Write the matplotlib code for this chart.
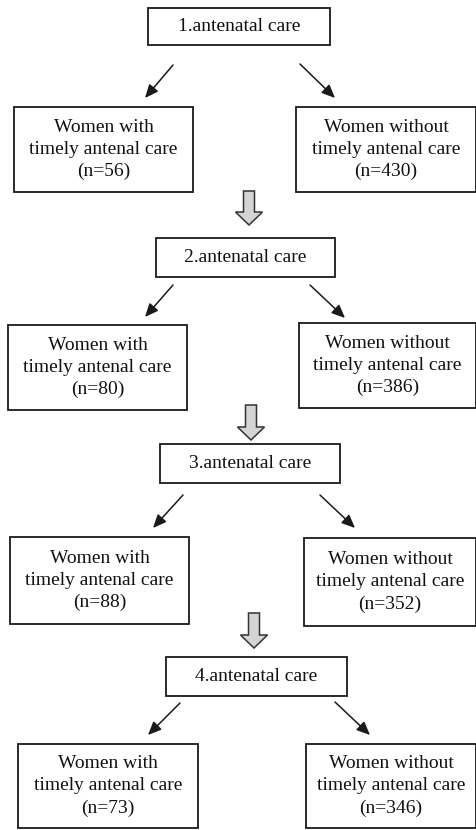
import matplotlib
matplotlib.use("Agg")
import matplotlib.pyplot as plt
from matplotlib.patches import Rectangle, FancyArrow

# data
stages = ["1.antenatal care", "2.antenatal care", "3.antenatal care", "4.antenatal care"]
with_label = "Women with\ntimely antenal care"
without_label = "Women without\ntimely antenal care"
n_with = [56, 80, 88, 73]
n_without = [430, 386, 352, 346]

# layout in pixel coords (x0, x1, y0, y1)
top_boxes = [(148, 330, 8, 45), (156, 335, 238, 277), (160, 340, 444, 483), (166, 347, 657, 696)]
left_boxes = [(14, 193, 107, 192), (8, 187, 325, 410), (10, 189, 537, 624), (18, 198, 744, 828)]
right_boxes = [(296, 476, 107, 192), (299, 476, 323, 408), (304, 476, 538, 626), (306, 476, 744, 828)]
arrows_left = [((173, 65), (145, 98)), ((173, 285), (145, 317)), ((183, 495), (153, 528)), ((180, 703), (148, 735))]
arrows_right = [((300, 64), (335, 98)), ((310, 285), (345, 318)), ((320, 495), (355, 528)), ((335, 702), (370, 735))]
block_arrows = [(249, 191, 225), (251, 405, 440), (254, 613, 648)]

plt.rcParams["font.family"] = ["Liberation Serif", "DejaVu Serif"]
FS = 14
EDGE = "#1a1a1a"

fig = plt.figure(figsize=(4.77, 8.30), dpi=100)
ax = fig.add_axes([0, 0, 1, 1])
ax.set_xlim(0, 477)
ax.set_ylim(830, 0)
ax.axis("off")


def box(b, text):
    x0, x1, y0, y1 = b
    ax.add_patch(Rectangle((x0, y0), x1 - x0, y1 - y0, fill=False,
                           edgecolor=EDGE, linewidth=1.3))
    ax.text((x0 + x1) / 2, (y0 + y1) / 2, text, ha="center", va="center",
            fontsize=FS, linespacing=1.4, color="#111111")


for i, st in enumerate(stages):
    box(top_boxes[i], st)
    box(left_boxes[i], f"{with_label}\n(n={n_with[i]})")
    box(right_boxes[i], f"{without_label}\n(n={n_without[i]})")
    for (s, e) in (arrows_left[i], arrows_right[i]):
        ax.annotate("", xy=e, xytext=s,
                    arrowprops=dict(arrowstyle="-|>,head_length=0.8,head_width=0.35",
                                    color=EDGE, lw=1.1, shrinkA=0, shrinkB=0))

for cx, ya, yb in block_arrows:
    ax.add_patch(FancyArrow(cx, ya, 0, yb - ya, width=11, head_width=27,
                            head_length=13, length_includes_head=True,
                            facecolor="#d4d4d4", edgecolor="#333333", linewidth=1.1))

fig.savefig("out.png", dpi=100, facecolor="white")
